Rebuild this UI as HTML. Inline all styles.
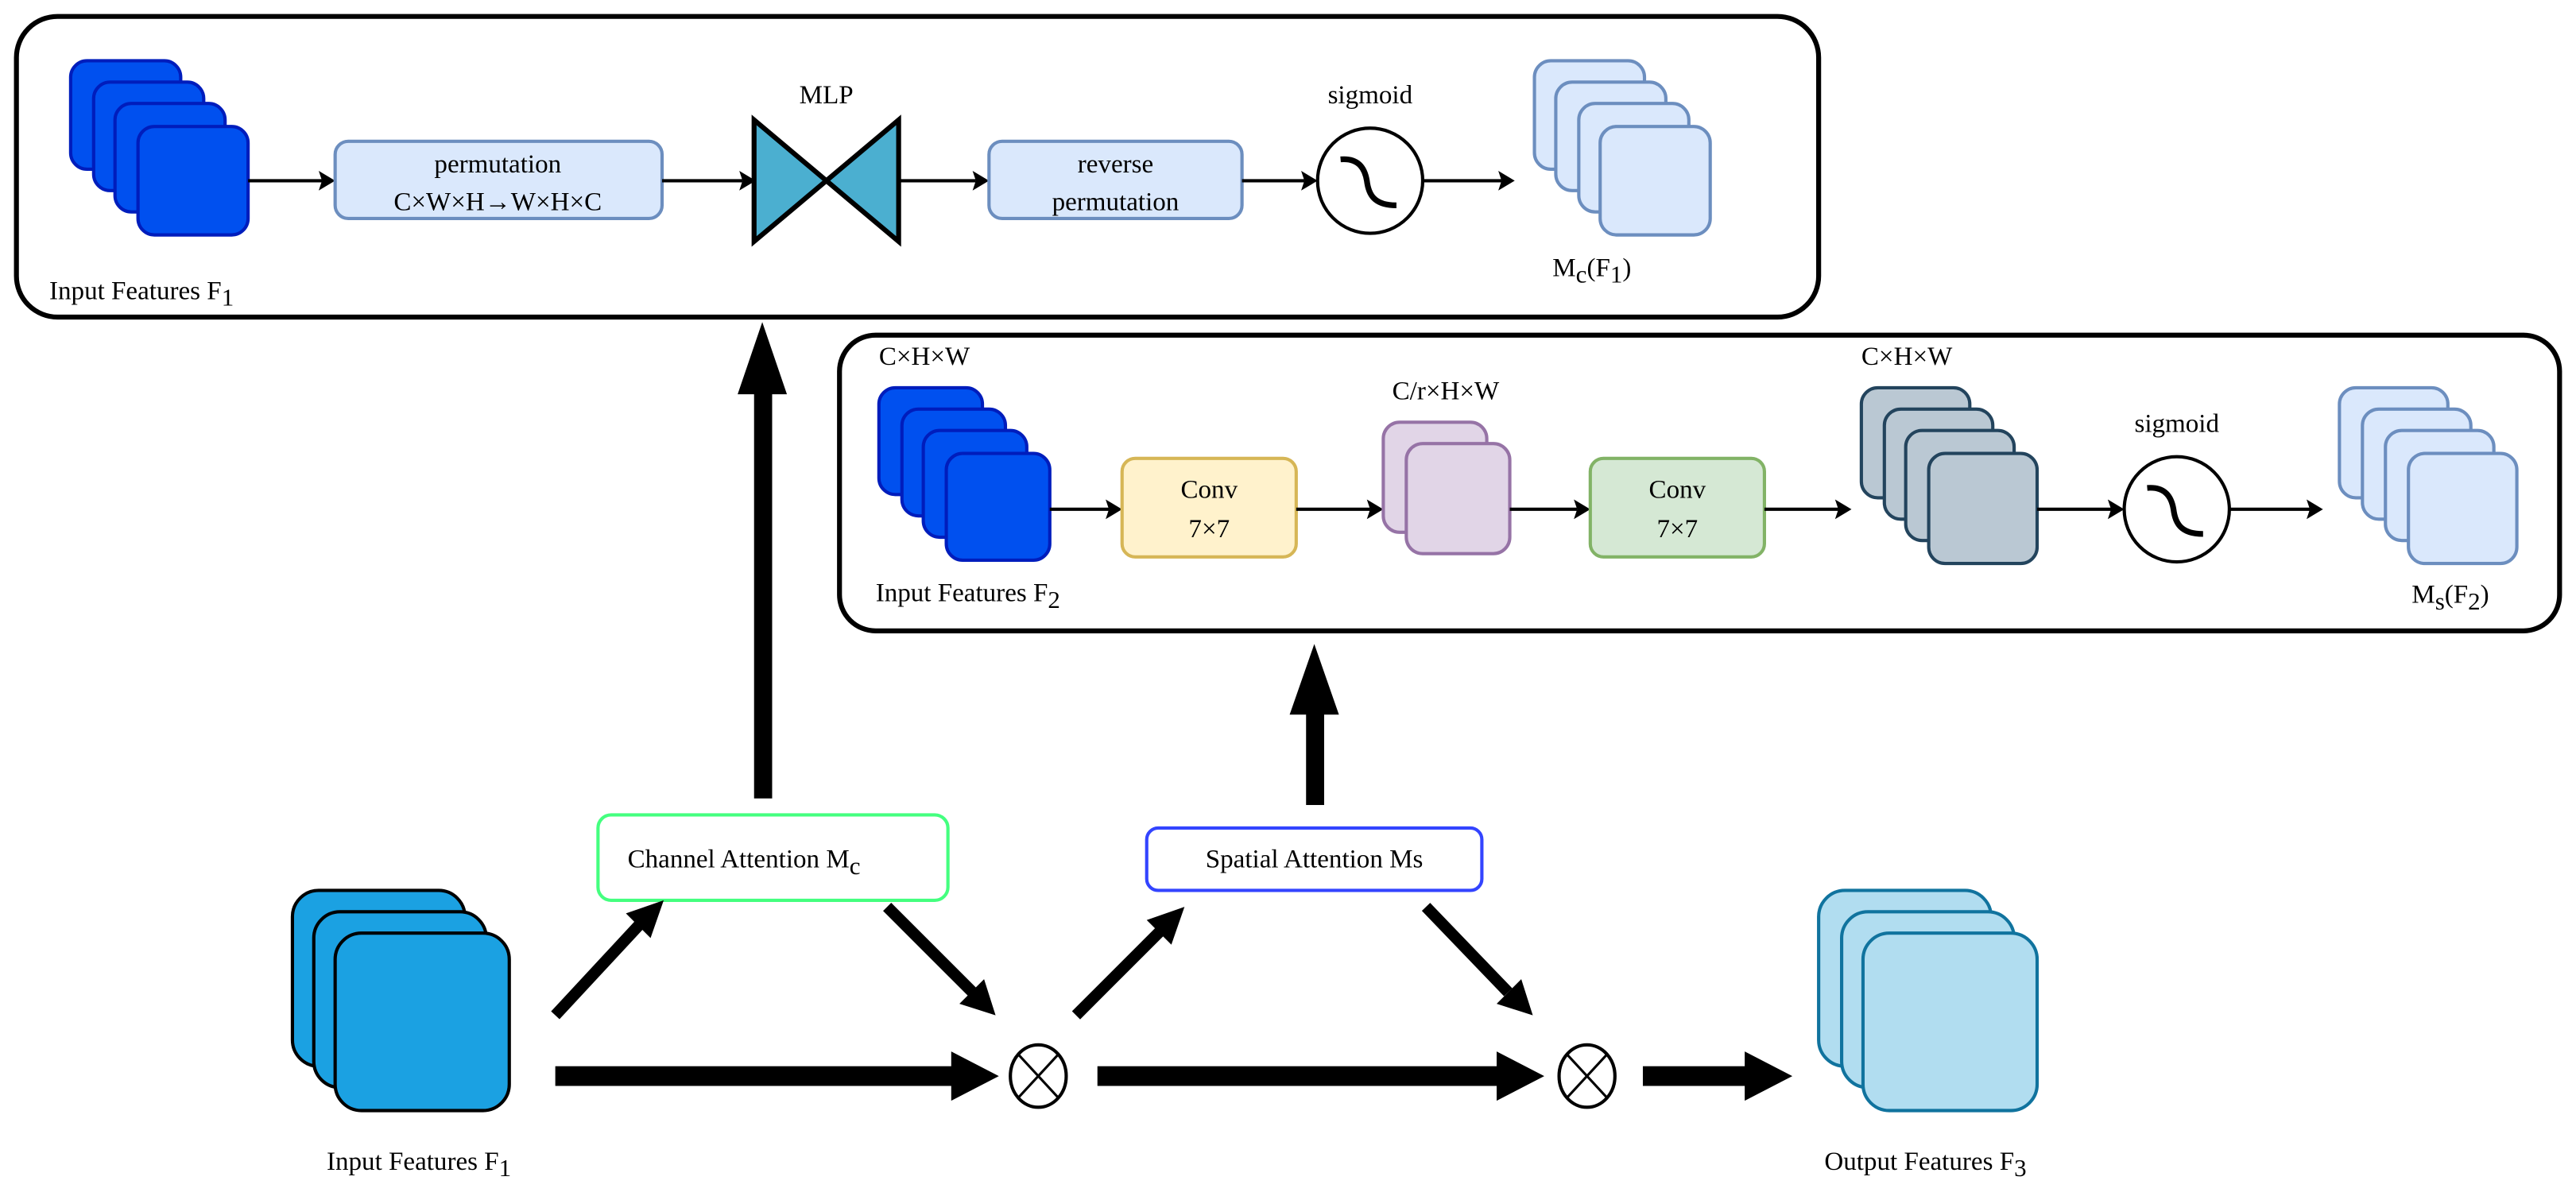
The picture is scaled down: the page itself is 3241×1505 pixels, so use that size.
<!DOCTYPE html>
<html><head><meta charset="utf-8"><style>html,body{margin:0;padding:0;background:#fff}svg{display:block}svg text{font-family:"Liberation Serif","DejaVu Serif",serif;font-size:16px;fill:#000}</style></head><body>
<svg width="3241" height="1505" viewBox="0 0 1568 728" preserveAspectRatio="none" xmlns="http://www.w3.org/2000/svg" font-family="Liberation Serif, serif">
<defs>
<g id="sig"><ellipse cx="0" cy="0" rx="32" ry="32" fill="#fff" stroke="#000" stroke-width="2"/><path d="M-18,-13 C-6,-14 -3,-6 -2,0 C-1,8 2,15 16,15" fill="none" stroke="#000" stroke-width="3.5"/></g>
<g id="otimes"><ellipse cx="0" cy="0" rx="17" ry="19" fill="#fff" stroke="#000" stroke-width="2"/><line x1="-12" y1="-13" x2="12" y2="13" stroke="#000" stroke-width="1.5"/><line x1="12" y1="-13" x2="-12" y2="13" stroke="#000" stroke-width="1.5"/></g>
</defs>
<rect x="10" y="10" width="1097" height="183" rx="25" fill="none" stroke="#000" stroke-width="3"/>
<g fill="#0050ef" stroke="#001dbc" stroke-width="2">
<rect x="43" y="37" width="67" height="66" rx="10"/><rect x="57" y="50" width="67" height="66" rx="10"/><rect x="70" y="63" width="67" height="66" rx="10"/><rect x="84" y="77" width="67" height="66" rx="10"/></g>
<text x="30" y="182">Input Features F<tspan dy="4" font-size="15">1</tspan></text>
<line x1="151" y1="110" x2="196" y2="110" stroke="#000" stroke-width="2"/><polygon points="204,110 194,104 196,110 194,116"/>
<rect x="204" y="86" width="199" height="47" rx="8" fill="#dae8fc" stroke="#6c8ebf" stroke-width="2"/>
<text x="303" y="105" text-anchor="middle">permutation</text><text x="303" y="128" text-anchor="middle">C×W×H→W×H×C</text>
<line x1="403" y1="110" x2="452" y2="110" stroke="#000" stroke-width="2"/><polygon points="460,110 450,104 452,110 450,116"/>
<polygon points="459,73 459,147 503,110" fill="#4bafd0" stroke="#000" stroke-width="3"/><polygon points="547,73 547,147 503,110" fill="#4bafd0" stroke="#000" stroke-width="3"/>
<text x="503" y="63" text-anchor="middle">MLP</text>
<line x1="547" y1="110" x2="594" y2="110" stroke="#000" stroke-width="2"/><polygon points="602,110 592,104 594,110 592,116"/>
<rect x="602" y="86" width="154" height="47" rx="8" fill="#dae8fc" stroke="#6c8ebf" stroke-width="2"/>
<text x="679" y="105" text-anchor="middle">reverse</text><text x="679" y="128" text-anchor="middle">permutation</text>
<line x1="756" y1="110" x2="794" y2="110" stroke="#000" stroke-width="2"/><polygon points="802,110 792,104 794,110 792,116"/>
<use href="#sig" x="834" y="110"/><text x="834" y="63" text-anchor="middle">sigmoid</text>
<line x1="866" y1="110" x2="914" y2="110" stroke="#000" stroke-width="2"/><polygon points="922,110 912,104 914,110 912,116"/>
<g fill="#dae8fc" stroke="#6c8ebf" stroke-width="2">
<rect x="934" y="37" width="67" height="66" rx="10"/><rect x="947" y="50" width="67" height="66" rx="10"/><rect x="961" y="63" width="67" height="66" rx="10"/><rect x="974" y="77" width="67" height="66" rx="10"/></g>
<text x="945" y="168">M<tspan dy="4" font-size="15">c</tspan><tspan dy="-4">(F</tspan><tspan dy="4" font-size="15">1</tspan><tspan dy="-4">)</tspan></text>
<rect x="511" y="204" width="1047" height="180" rx="22" fill="none" stroke="#000" stroke-width="3"/>
<text x="535" y="222">C×H×W</text>
<g fill="#0050ef" stroke="#001dbc" stroke-width="2">
<rect x="535" y="236" width="63" height="65" rx="10"/><rect x="549" y="249" width="63" height="65" rx="10"/><rect x="562" y="262" width="63" height="65" rx="10"/><rect x="576" y="276" width="63" height="65" rx="10"/></g>
<text x="533" y="366">Input Features F<tspan dy="4" font-size="15">2</tspan></text>
<line x1="639" y1="310" x2="675" y2="310" stroke="#000" stroke-width="2"/><polygon points="683,310 673,304 675,310 673,316"/>
<rect x="683" y="279" width="106" height="60" rx="8" fill="#fff2cc" stroke="#d6b656" stroke-width="2"/>
<text x="736" y="303" text-anchor="middle">Conv</text><text x="736" y="327" text-anchor="middle">7×7</text>
<line x1="789" y1="310" x2="834" y2="310" stroke="#000" stroke-width="2"/><polygon points="842,310 832,304 834,310 832,316"/>
<text x="880" y="243" text-anchor="middle">C/r×H×W</text>
<g fill="#e1d5e7" stroke="#9673a6" stroke-width="2"><rect x="842" y="257" width="63" height="67" rx="10"/><rect x="856" y="270" width="63" height="67" rx="10"/></g>
<line x1="919" y1="310" x2="960" y2="310" stroke="#000" stroke-width="2"/><polygon points="968,310 958,304 960,310 958,316"/>
<rect x="968" y="279" width="106" height="60" rx="8" fill="#d5e8d4" stroke="#82b366" stroke-width="2"/>
<text x="1021" y="303" text-anchor="middle">Conv</text><text x="1021" y="327" text-anchor="middle">7×7</text>
<line x1="1074" y1="310" x2="1119" y2="310" stroke="#000" stroke-width="2"/><polygon points="1127,310 1117,304 1119,310 1117,316"/>
<text x="1133" y="222">C×H×W</text>
<g fill="#bac8d3" stroke="#23445d" stroke-width="2">
<rect x="1133" y="236" width="66" height="67" rx="10"/><rect x="1147" y="249" width="66" height="67" rx="10"/><rect x="1160" y="262" width="66" height="67" rx="10"/><rect x="1174" y="276" width="66" height="67" rx="10"/></g>
<line x1="1240" y1="310" x2="1285" y2="310" stroke="#000" stroke-width="2"/><polygon points="1293,310 1283,304 1285,310 1283,316"/>
<use href="#sig" x="1325" y="310"/><text x="1325" y="263" text-anchor="middle">sigmoid</text>
<line x1="1357" y1="310" x2="1406" y2="310" stroke="#000" stroke-width="2"/><polygon points="1414,310 1404,304 1406,310 1404,316"/>
<g fill="#dae8fc" stroke="#6c8ebf" stroke-width="2">
<rect x="1424" y="236" width="66" height="67" rx="10"/><rect x="1438" y="249" width="66" height="67" rx="10"/><rect x="1452" y="262" width="66" height="67" rx="10"/><rect x="1466" y="276" width="66" height="67" rx="10"/></g>
<text x="1468" y="367">M<tspan dy="4" font-size="15">s</tspan><tspan dy="-4">(F</tspan><tspan dy="4" font-size="15">2</tspan><tspan dy="-4">)</tspan></text>
<rect x="459" y="238" width="11" height="248"/><polygon points="464,196 449,240 479,240"/>
<rect x="795" y="432" width="11" height="58"/><polygon points="800,392 785,435 815,435"/>
<rect x="364" y="496" width="213" height="52" rx="8" fill="#fff" stroke="#44ff7f" stroke-width="2"/>
<text x="382" y="528">Channel Attention M<tspan dy="4" font-size="15">c</tspan></text>
<rect x="698" y="504" width="204" height="38" rx="7" fill="#fff" stroke="#3344ff" stroke-width="2"/>
<text x="800" y="528" text-anchor="middle">Spatial Attention Ms</text>
<g fill="#1ba1e2" stroke="#000" stroke-width="2">
<rect x="178" y="542" width="105" height="107" rx="16"/><rect x="191" y="555" width="105" height="107" rx="16"/><rect x="204" y="568" width="106" height="108" rx="16"/></g>
<g fill="#b1ddf0" stroke="#10739e" stroke-width="2">
<rect x="1107" y="542" width="105" height="107" rx="16"/><rect x="1121" y="555" width="105" height="107" rx="16"/><rect x="1134" y="568" width="106" height="108" rx="16"/></g>
<text x="255" y="712" text-anchor="middle">Input Features F<tspan dy="4" font-size="15">1</tspan></text>
<text x="1172" y="712" text-anchor="middle">Output Features F<tspan dy="4" font-size="15">3</tspan></text>
<rect x="338" y="649" width="245" height="12"/><polygon points="608,655 579,640 579,670"/>
<rect x="668" y="649" width="247" height="12"/><polygon points="940,655 911,640 911,670"/>
<rect x="1000" y="649" width="66" height="12"/><polygon points="1091,655 1062,640 1062,670"/>
<use href="#otimes" x="632" y="655"/><use href="#otimes" x="966" y="655"/>
<g stroke="#000" stroke-width="7">
<line x1="338" y1="618" x2="390" y2="562"/><line x1="540" y1="552" x2="592" y2="604"/>
<line x1="655" y1="618" x2="707" y2="566"/><line x1="868" y1="552" x2="918" y2="604"/></g>
<polygon points="404,548 381,556 396,571"/>
<polygon points="606,618 584,611 599,596"/>
<polygon points="721,552 698,560 713,575"/>
<polygon points="933,618 911,611 926,596"/>
</svg>
</body></html>
